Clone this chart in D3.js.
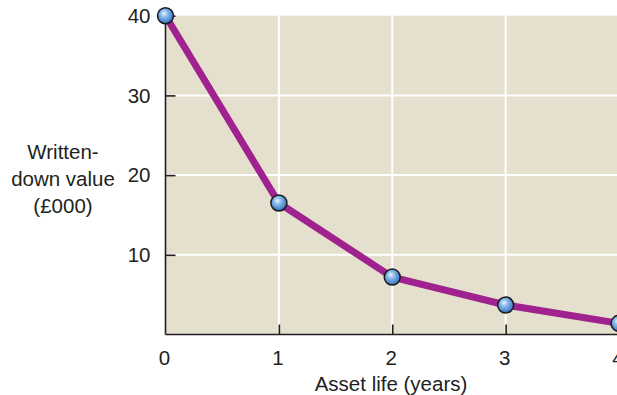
<!DOCTYPE html>
<html>
<head>
<meta charset="utf-8">
<script src="https://cdn.jsdelivr.net/npm/d3@7"></script>
<style>
  html, body { margin: 0; padding: 0; background: #fff; }
  svg { display: block; font-family: "Liberation Sans", Arial, Helvetica, sans-serif; }
</style>
</head>
<body>
<svg id="chart" width="617" height="395"></svg>
<script>
// Written-down value of an asset over its life (reducing balance)
const years = [0, 1, 2, 3, 4];
const values = [40, 16.5, 7.2, 3.7, 1.4];
const xTicks = [0, 1, 2, 3, 4];
const yTicks = [10, 20, 30, 40];
const yTitleLines = ["Written-", "down value", "(£000)"];
const xTitle = "Asset life (years)";

const svg = d3.select("#chart");
const plotLeft = 165.5, plotRight = 619, plotTop = 15.7, plotBottom = 334.5;
const ink = "#231f20";

const x = d3.scaleLinear().domain([0, 4]).range([plotLeft, plotRight]);
const y = d3.scaleLinear().domain([0, 40]).range([plotBottom, plotTop]);

const defs = svg.append("defs");
const grad = defs.append("radialGradient")
  .attr("id", "ball").attr("cx", "45%").attr("cy", "40%").attr("r", "60%")
  .attr("fx", "40%").attr("fy", "35%");
grad.append("stop").attr("offset", "0%").attr("stop-color", "#eef6ff");
grad.append("stop").attr("offset", "35%").attr("stop-color", "#8ebdee");
grad.append("stop").attr("offset", "100%").attr("stop-color", "#2f6fc0");

// plot background
svg.append("rect")
  .attr("x", plotLeft).attr("y", plotTop)
  .attr("width", plotRight - plotLeft).attr("height", plotBottom - plotTop)
  .attr("fill", "#e4e0cd");

// gridlines
const grid = svg.append("g");
grid.selectAll("line.h").data(yTicks.filter(d => d < 40)).join("line")
  .attr("x1", plotLeft).attr("x2", plotRight)
  .attr("y1", d => y(d)).attr("y2", d => y(d))
  .attr("stroke", "#ffffff").attr("stroke-width", 2);
grid.selectAll("line.v").data(xTicks.filter(d => d > 0 && d < 4)).join("line")
  .attr("x1", d => x(d)).attr("x2", d => x(d))
  .attr("y1", plotTop).attr("y2", plotBottom)
  .attr("stroke", "#ffffff").attr("stroke-width", 2);

// axes with inward ticks
const yAxis = svg.append("g")
  .attr("transform", `translate(${plotLeft},0)`)
  .call(d3.axisRight(y).tickValues(yTicks).tickSize(10).tickFormat(""));
yAxis.select(".domain").attr("d", `M0,${plotTop}V${plotBottom}`);
yAxis.selectAll("path, line").attr("stroke", ink).attr("stroke-width", 1.6);

const xAxis = svg.append("g")
  .attr("transform", `translate(0,${plotBottom})`)
  .call(d3.axisTop(x).tickValues(xTicks.filter(d => d > 0)).tickSize(10).tickFormat(""));
xAxis.select(".domain").attr("d", `M${plotLeft},0H${plotRight}`);
xAxis.selectAll("path, line").attr("stroke", ink).attr("stroke-width", 1.6);

// tick labels
svg.append("g").selectAll("text").data(yTicks).join("text")
  .attr("x", plotLeft - 15).attr("y", d => y(d))
  .attr("dy", "0.36em").attr("text-anchor", "end")
  .attr("font-size", 20.5).attr("fill", ink)
  .text(d => d);

svg.append("g").selectAll("text").data(xTicks).join("text")
  .attr("x", d => x(d) - 1).attr("y", 365)
  .attr("text-anchor", "middle")
  .attr("font-size", 20.5).attr("fill", ink)
  .text(d => d);

// titles
svg.append("text")
  .attr("x", 391).attr("y", 391)
  .attr("text-anchor", "middle").attr("font-size", 20.5).attr("fill", ink)
  .text(xTitle);

svg.append("g").selectAll("text").data(yTitleLines).join("text")
  .attr("x", 63).attr("y", (d, i) => 159 + i * 27)
  .attr("text-anchor", "middle").attr("font-size", 20.5).attr("fill", ink)
  .text(d => d);

// series line
const pts = years.map((yr, i) => [yr, values[i]]);
svg.append("path")
  .datum(pts)
  .attr("fill", "none")
  .attr("stroke", "#a0228e")
  .attr("stroke-width", 7)
  .attr("stroke-linejoin", "round")
  .attr("d", d3.line().x(d => x(d[0])).y(d => y(d[1])));

// markers
svg.append("g").selectAll("circle").data(pts).join("circle")
  .attr("cx", d => x(d[0])).attr("cy", d => y(d[1]))
  .attr("r", 8)
  .attr("fill", "url(#ball)")
  .attr("stroke", "#1a1a1a").attr("stroke-width", 1.5);
</script>
</body>
</html>
